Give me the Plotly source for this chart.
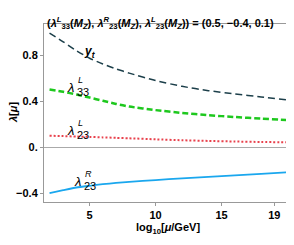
import plotly.graph_objects as go

log_mu = [1.96, 3, 4, 5, 6, 7, 8, 10, 12, 14, 16, 18, 20]
y_t = [0.99, 0.915, 0.838, 0.772, 0.722, 0.68, 0.643, 0.578, 0.528, 0.49, 0.462, 0.436, 0.41]
lam33L = [0.50, 0.48, 0.457, 0.43, 0.402, 0.375, 0.352, 0.321, 0.297, 0.277, 0.261, 0.247, 0.235]
lam23L = [0.098, 0.095, 0.091, 0.088, 0.084, 0.08, 0.076, 0.067, 0.059, 0.053, 0.048, 0.044, 0.041]
lam23R = [-0.40, -0.375, -0.352, -0.337, -0.323, -0.312, -0.303, -0.287, -0.273, -0.26, -0.247, -0.234, -0.22]

x_ticks = [5, 10, 15, 19]
y_ticks = [-0.4, 0.0, 0.4, 0.8]
y_tick_text = ["\u22120.4", "0.", "0.4", "0.8"]

FONT = "Liberation Sans, Arial, sans-serif"

fig = go.Figure()
fig.add_trace(go.Scatter(x=log_mu, y=y_t, mode="lines",
                         line=dict(color="#1c3f4a", width=1.5, dash="7px,4px", shape="spline", smoothing=0.6)))
fig.add_trace(go.Scatter(x=log_mu, y=lam33L, mode="lines",
                         line=dict(color="#1ec81e", width=2.5, dash="6px,3px", shape="spline", smoothing=0.6)))
fig.add_trace(go.Scatter(x=log_mu, y=lam23L, mode="lines",
                         line=dict(color="#e8414c", width=2, dash="2px,2px", shape="spline", smoothing=0.6)))
fig.add_trace(go.Scatter(x=log_mu, y=lam23R, mode="lines",
                         line=dict(color="#1aa7ee", width=1.8, shape="spline", smoothing=0.6)))


def lab(x, y, base, sup, sub):
    fig.add_annotation(x=x, y=y, text=f"<i>{base}</i>", showarrow=False, xanchor="right",
                       font=dict(family=FONT, size=13, color="black"))
    fig.add_annotation(x=x, y=y, text=f"<i>{sup}</i>", showarrow=False, xanchor="left",
                       yshift=7, xshift=0, font=dict(family=FONT, size=9, color="black"))
    fig.add_annotation(x=x, y=y, text=sub, showarrow=False, xanchor="left",
                       yshift=-5, xshift=-1, font=dict(family=FONT, size=11, color="black"))


fig.add_annotation(x=5.0, y=0.826, text="<b><i>y<sub>t</sub></i></b>", showarrow=False,
                   font=dict(family=FONT, size=12, color="black"))
lab(4.0, 0.52, "λ", "L", "33")
lab(4.0, 0.148, "λ", "L", "23")
lab(4.5, -0.296, "λ", "R", "23")

title = ("(<i>λ</i><sup><i>L</i></sup><sub>33</sub>(<i>M<sub>Z</sub></i>), "
         "<i>λ</i><sup><i>R</i></sup><sub>23</sub>(<i>M<sub>Z</sub></i>), "
         "<i>λ</i><sup><i>L</i></sup><sub>23</sub>(<i>M<sub>Z</sub></i>)) = (0.5, \u22120.4, 0.1)")
fig.add_annotation(xref="paper", yref="paper", x=0.47, y=1.0, yshift=11, text="<b>" + title + "</b>",
                   showarrow=False, font=dict(family=FONT, size=11, color="black"))

fig.add_annotation(xref="paper", yref="paper", x=0, y=0.5, xshift=-31, xanchor="center", yanchor="middle",
                   textangle=-90, text="<b><i>λ</i>[<i>μ</i>]</b>", showarrow=False,
                   font=dict(family=FONT, size=11, color="black"))

fig.update_layout(
    width=286, height=237,
    margin=dict(l=36, r=2, t=16, b=43, autoexpand=False),
    paper_bgcolor="white", plot_bgcolor="white",
    showlegend=False,
    font=dict(family=FONT, size=11, color="black"),
    xaxis=dict(range=[1.54, 20.34], tickvals=x_ticks, ticktext=["<b>%d</b>" % t for t in x_ticks],
               ticks="outside", ticklen=3, tickcolor="#999", automargin=False,
               showgrid=False, zeroline=False, showline=True, linecolor="#999", mirror=True,
               tickfont=dict(family=FONT, size=11, color="black"),
               title=dict(text="<b>log<sub>10</sub>[<i>μ</i>/GeV]</b>", font=dict(family=FONT, size=11), standoff=2)),
    yaxis=dict(range=[-0.478, 1.07], tickvals=y_ticks, ticktext=["<b>%s</b>" % t for t in y_tick_text],
               ticks="outside", ticklen=3, tickcolor="#999", automargin=False,
               showgrid=False, zeroline=True, zerolinecolor="#aaa", zerolinewidth=1,
               showline=True, linecolor="#999", mirror=True,
               tickfont=dict(family=FONT, size=11, color="black")),
)

fig.write_html("out.html")
